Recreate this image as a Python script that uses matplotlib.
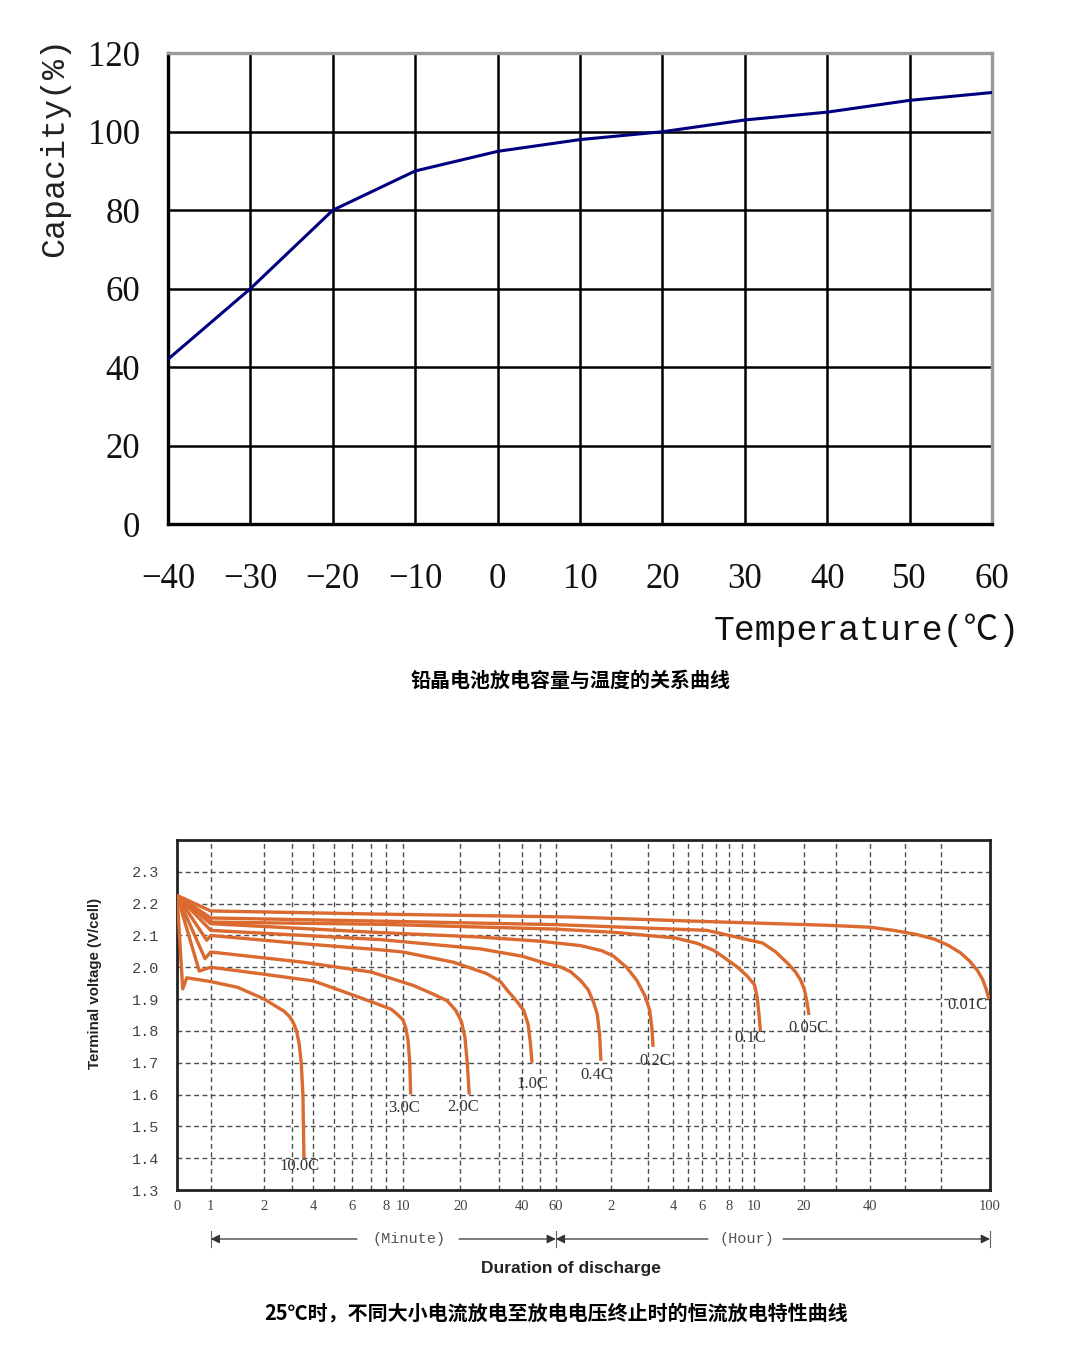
import numpy as np
import matplotlib
matplotlib.use("Agg")
import matplotlib.pyplot as plt
from matplotlib.transforms import blended_transform_factory

## Data: capacity vs temperature ##
temps = [-40, -30, -20, -10, 0, 10, 20, 30, 40, 50, 60]
capacity = [42, 60, 80, 90, 95, 98, 100, 103, 105, 108, 110]
cap_ticks = [0, 20, 40, 60, 80, 100, 120]

## Data: discharge curves (time in minutes, voltage V/cell) ##
t_10c = [0, 0.17, 0.29, 1, 1.5, 2, 2.4, 2.7, 2.9, 3.05, 3.2, 3.32, 3.42, 3.5, 3.55]
v_10c = [2.226, 1.932, 1.967, 1.955, 1.937, 1.90, 1.878, 1.862, 1.845, 1.825, 1.80, 1.76, 1.70, 1.60, 1.40]

t_3c = [0, 0.66, 1, 2, 4, 5.2, 7.4, 8.6, 9.3, 10.0, 10.5, 10.9, 11.2, 11.35]
v_3c = [2.226, 1.988, 2.0, 1.978, 1.957, 1.93, 1.885, 1.868, 1.853, 1.835, 1.81, 1.77, 1.70, 1.60]

t_2c = [0, 0.83, 1, 3.5, 7, 11.8, 15, 17.7, 19.2, 20.3, 21.2, 21.8, 22.3]
v_2c = [2.226, 2.027, 2.048, 2.016, 1.985, 1.943, 1.918, 1.895, 1.865, 1.83, 1.78, 1.70, 1.60]

t_1c = [0, 0.88, 1, 3.5, 7.6, 10, 18.8, 26.8, 30.5, 33.6, 37.5, 41, 43.5, 44.8, 45.7]
v_1c = [2.226, 2.085, 2.10, 2.074, 2.055, 2.048, 2.016, 1.98, 1.955, 1.927, 1.895, 1.864, 1.82, 1.76, 1.70]

t_04c = [0, 1, 7.6, 25, 40, 54.6, 66, 76, 87, 95, 101, 105, 107.5, 109]
v_04c = [2.226, 2.116, 2.087, 2.058, 2.035, 2.011, 2.0, 1.986, 1.958, 1.93, 1.89, 1.853, 1.79, 1.706]

t_02c = [0, 1, 7.6, 25, 50, 87, 110, 124, 145, 162, 175, 184, 189, 192]
v_02c = [2.226, 2.137, 2.109, 2.095, 2.082, 2.068, 2.052, 2.035, 2.0, 1.958, 1.91, 1.864, 1.81, 1.75]

t_01c = [0, 1, 7.6, 60, 123, 250, 340, 410, 453, 520, 566, 600, 633, 655, 672]
v_01c = [2.226, 2.142, 2.135, 2.12, 2.11, 2.092, 2.075, 2.053, 2.032, 2.0, 1.972, 1.945, 1.905, 1.85, 1.80]

t_005c = [0, 1, 7.6, 60, 381, 700, 850, 1009, 1100, 1160, 1210, 1250, 1280, 1296]
v_005c = [2.226, 2.155, 2.145, 2.134, 2.116, 2.076, 2.05, 2.011, 1.985, 1.96, 1.93, 1.90, 1.87, 1.85]

t_001c = [0, 1, 7.6, 76, 323, 1644, 2400, 3210, 4000, 4600, 5000, 5286, 5500, 5694, 5820, 5910, 5976]
v_001c = [2.226, 2.177, 2.167, 2.158, 2.145, 2.132, 2.126, 2.116, 2.103, 2.088, 2.068, 2.045, 2.02, 1.99, 1.962, 1.93, 1.90]

rate_labels = ["10.0C", "3.0C", "2.0C", "1.0C", "0.4C", "0.2C", "0.1C", "0.05C", "0.01C"]
curves = [(t_10c, v_10c), (t_3c, v_3c), (t_2c, v_2c), (t_1c, v_1c), (t_04c, v_04c),
          (t_02c, v_02c), (t_01c, v_01c), (t_005c, v_005c), (t_001c, v_001c)]
# label offset from curve end (pixels right, pixels down)
label_offsets = [(-4, 8), (-7, 13), (-6, 12), (0, 21), (-5, 14), (2, 14), (-10, 7), (0, 13), (-22, 6)]

volt_ticks = [1.3, 1.4, 1.5, 1.6, 1.7, 1.8, 1.9, 2.0, 2.1, 2.2, 2.3]

# x axis of the discharge chart: minutes up to 60, then hours up to 100 h
scale_min = [0, 1, 2, 3, 4, 5, 6, 7, 8, 10, 20, 30, 40, 50, 60,
             120, 180, 240, 300, 360, 420, 480, 540, 600, 1200, 1800, 2400, 3600, 4800, 6000]
scale_pos = [0, 33.7, 87.3, 115.3, 136.3, 157, 174.7, 194, 209, 225.7, 283, 322, 344.7, 362.3, 378.5,
             433.7, 470.7, 495.7, 510.7, 524.7, 538.7, 552, 564.3, 577, 626.3, 658, 692.3, 727.3, 763, 812.3]
tick_min = [0, 1, 2, 4, 6, 8, 10, 20, 40, 60, 120, 240, 360, 480, 600, 1200, 2400, 6000]
tick_lab = ["0", "1", "2", "4", "6", "8", "10", "20", "40", "60",
            "2", "4", "6", "8", "10", "20", "40", "100"]


def fwd(x):
    return np.interp(x, scale_min, scale_pos)


def inv(p):
    return np.interp(p, scale_pos, scale_min)


fig = plt.figure(figsize=(10.68, 13.49), dpi=100)
W, H = 1068, 1349

## Top chart ##
ax1 = fig.add_axes([168 / W, 1 - 524 / H, (992 - 168) / W, (524 - 53.3) / H])
ax1.plot(temps, capacity, color="#00007F", lw=2.2, zorder=3)
ax1.set_xlim(-40, 60)
ax1.set_ylim(0, 120)
ax1.set_xticks(temps)
ax1.set_yticks(cap_ticks)
ax1.set_xticklabels([str(t).replace("-", "\u2212") for t in temps])
ax1.grid(True, color="black", lw=1.8)
ax1.tick_params(length=0, labelsize=25, colors="#111111")
ax1.tick_params(axis="x", pad=28)
ax1.tick_params(axis="y", pad=20)
for lab in ax1.get_xticklabels() + ax1.get_yticklabels():
    lab.set_family("Liberation Serif")
for side in ["left", "bottom"]:
    ax1.spines[side].set_color("black")
    ax1.spines[side].set_linewidth(2.4)
for side in ["top", "right"]:
    ax1.spines[side].set_color("#999999")
    ax1.spines[side].set_linewidth(2.4)

fig.text(55 / W, 1 - 147 / H, "Capacity(%)", rotation=90, ha="center", va="center",
         fontsize=24, family=["Liberation Mono", "DejaVu Sans Mono"], color="#222222")
fig.text(1020 / W, 1 - 630 / H, "Temperature(\u2103)", ha="right", va="center",
         fontsize=25, family=["Liberation Mono", "Noto Sans CJK SC"], color="#111111")
fig.text(571 / W, 1 - 680 / H, "铅晶电池放电容量与温度的关系曲线", ha="center", va="center",
         fontsize=14.4, weight="bold", family=["Noto Sans CJK SC", "DejaVu Sans"])

## Bottom chart ##
ax2 = fig.add_axes([177 / W, 1 - 1190 / H, (990 - 177) / W, 350 / H])
ax2.set_xscale("function", functions=(fwd, inv))
ax2.set_xlim(0, 6000)
ax2.set_ylim(1.3, 2.4)

grid_kw = dict(color="#4d4d4d", lw=1.0, linestyle=(0, (3.5, 2.5)), zorder=1)
for xm in scale_min[1:-1]:
    ax2.axvline(xm, **grid_kw)
for yv in volt_ticks[1:]:
    ax2.axhline(yv, **grid_kw)

for (t, v), lab, (dx, dy) in zip(curves, rate_labels, label_offsets):
    ax2.plot(t, v, color="#DA6A2F", lw=2.4, solid_capstyle="butt", solid_joinstyle="round", zorder=3)
    ax2.annotate(lab, xy=(t[-1], v[-1]), xytext=(dx * 0.72, -dy * 0.72),
                 textcoords="offset points", ha="center", va="center",
                 fontsize=12, family="Liberation Serif", color="#333333", zorder=4)

ax2.set_xticks(tick_min)
ax2.set_xticklabels(tick_lab)
ax2.set_yticks(volt_ticks)
ax2.set_yticklabels(["%.1f" % v for v in volt_ticks])
ax2.minorticks_off()
ax2.tick_params(length=0, colors="#444444")
ax2.tick_params(axis="x", pad=7, labelsize=10.5)
ax2.tick_params(axis="y", pad=13, labelsize=11)
for lab in ax2.get_xticklabels():
    lab.set_family("Liberation Serif")
for lab in ax2.get_yticklabels():
    lab.set_family("Liberation Mono")
for side in ax2.spines.values():
    side.set_color("#222222")
    side.set_linewidth(2.0)

# minute / hour arrows under the axis
tr = blended_transform_factory(ax2.transData, ax2.transAxes)
yr = -0.14
arrow_kw = dict(arrowstyle="-|>", color="#333333", lw=0.9, shrinkA=0, shrinkB=0, mutation_scale=13)
for xm in [1, 60, 6000]:
    ax2.plot([xm, xm], [yr - 0.022, yr + 0.022], transform=tr, color="#666666", lw=0.8, clip_on=False)
ax2.annotate("", xy=(1, yr), xycoords=tr, xytext=(0.2214, yr), textcoords="axes fraction", arrowprops=arrow_kw)
ax2.annotate("", xy=(60, yr), xycoords=tr, xytext=(0.347, yr), textcoords="axes fraction", arrowprops=arrow_kw)
ax2.annotate("", xy=(60, yr), xycoords=tr, xytext=(0.653, yr), textcoords="axes fraction", arrowprops=arrow_kw)
ax2.annotate("", xy=(6000, yr), xycoords=tr, xytext=(0.7454, yr), textcoords="axes fraction", arrowprops=arrow_kw)
ax2.text(0.2854, yr, "(Minute)", transform=ax2.transAxes, ha="center", va="center",
         fontsize=11, family="Liberation Mono", color="#555555")
ax2.text(0.701, yr, "(Hour)", transform=ax2.transAxes, ha="center", va="center",
         fontsize=11, family="Liberation Mono", color="#555555")

fig.text(95 / W, 1 - 983 / H, "Terminal voltage (V/cell)", rotation=90, ha="center", va="center",
         fontsize=10.8, weight="bold", family="Liberation Sans", color="#222222")
fig.text(571 / W, 1 - 1268 / H, "Duration of discharge", ha="center", va="center",
         fontsize=12.5, weight="bold", family="Liberation Sans", color="#222222")
fig.text(556 / W, 1 - 1313 / H, "25\u2103时，不同大小电流放电至放电电压终止时的恒流放电特性曲线",
         ha="center", va="center", fontsize=14.4, weight="bold",
         family=["Noto Sans CJK SC", "DejaVu Sans"])

fig.savefig("out.png", dpi=100, facecolor="white")
